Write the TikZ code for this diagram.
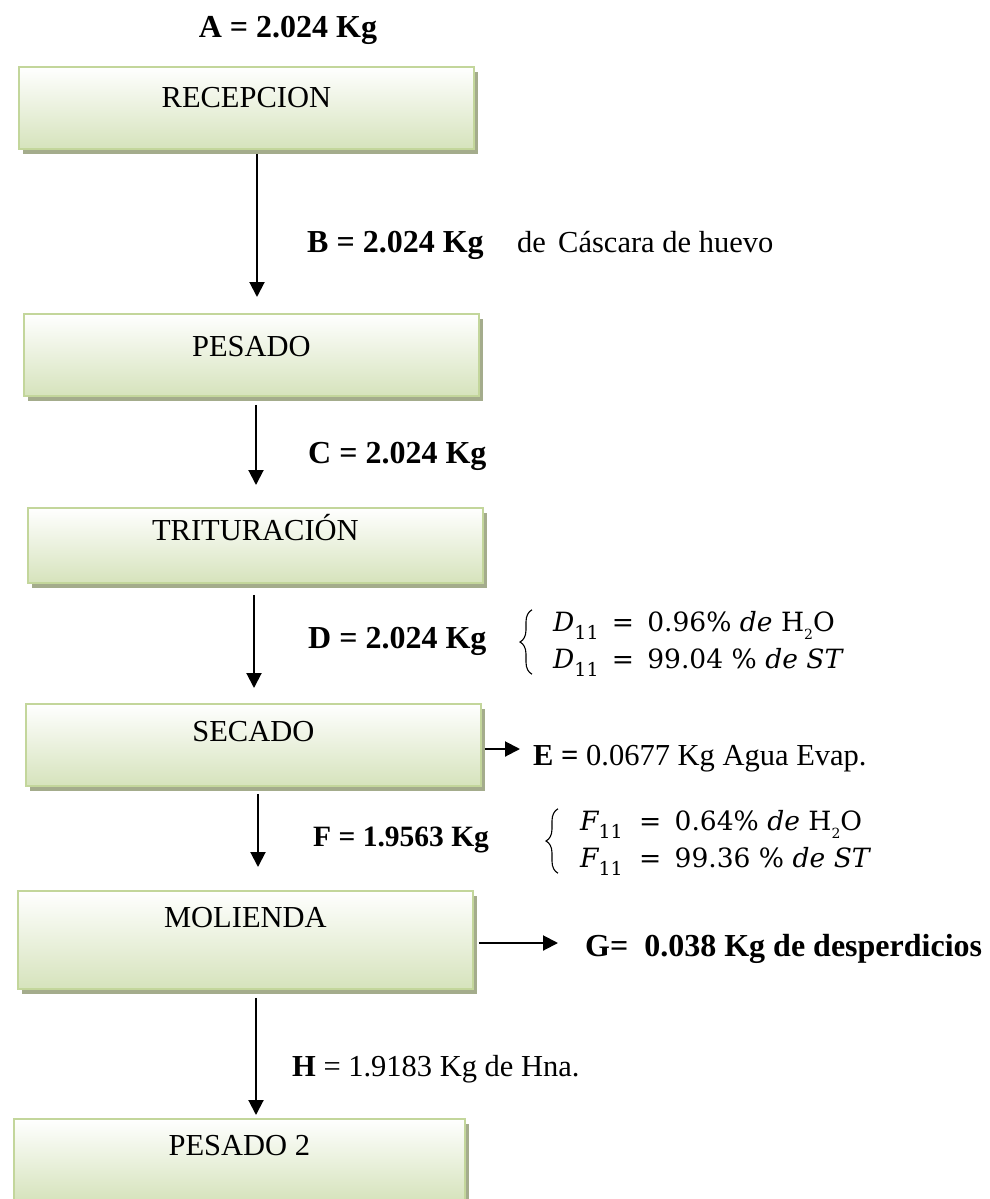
\documentclass[tikz,border=0pt]{standalone}
\usepackage{fontspec}
\setmainfont{Liberation Serif}
\newfontfamily\eqfont{DejaVu Serif}
\usetikzlibrary{arrows.meta,shadows,decorations.pathreplacing}
\definecolor{boxline}{HTML}{C3D69B}
\definecolor{boxfill}{HTML}{D6E3BC}
\definecolor{shadowc}{HTML}{A4AC8C}
% lowered indices in the composition formulas
\newcommand\lowidx[1]{\raisebox{-0.3em}{\fontsize{19}{19}\selectfont #1}}
\newcommand\smallidx[1]{\raisebox{-0.28em}{\fontsize{14}{14}\selectfont #1}}
\newcommand\eqsp{\hspace{0.5em}}
\newcommand\wsp{\hspace{0.32em}}
\begin{document}
\begin{tikzpicture}[x=1pt,y=-1pt,
  proc/.style={draw=boxline, line width=1.8pt, top color=white, bottom color=boxfill,
    minimum width=455pt, inner xsep=0pt, inner ysep=0pt, anchor=north west,
    drop shadow={shadow xshift=4pt, shadow yshift=-5pt, fill=shadowc, opacity=1},
    font=\fontsize{30.5}{36}\selectfont},
  lbl/.style={inner sep=0pt, font=\fontsize{32}{38}\selectfont},
  lblr/.style={inner sep=0pt, font=\fontsize{30.5}{36}\selectfont},
  frm/.style={inner sep=0pt, font=\eqfont\fontsize{26.5}{37}\selectfont},
  flow/.style={line width=2pt, -{Triangle[width=15pt,length=15pt]}},
  curly/.style={decorate, decoration={brace, amplitude=12pt}, line width=1.1pt}]
\useasboundingbox (0,0) rectangle (990,1199);

% process boxes
\node[proc, text height=41pt, text depth=41pt] (rec) at (18,66) {RECEPCION};
\node[proc, text height=43pt, text depth=39pt] (pes) at (23,313) {PESADO};
\node[proc, text height=33pt, text depth=42pt] (tri) at (27,507) {TRITURACIÓN};
\node[proc, text height=38pt, text depth=44pt] (sec) at (25,703) {SECADO};
\node[proc, text height=37pt, text depth=61pt] (mol) at (17,890) {MOLIENDA};
\node[proc, minimum width=451pt, text height=37pt, text depth=45pt] (pe2) at (13,1118) {PESADO 2};

% stream labels
\node[lbl, anchor=base] (a) at (288,38) {\textbf{A = 2.024 Kg}};
\node[lbl, anchor=base west] (b) at (307,252) {\textbf{B = 2.024 Kg}\fontsize{30.5}{36}\selectfont\hspace{1.1em}de\hspace{0.4em}Cáscara de huevo};
\node[lbl, anchor=base west] (c) at (308,463) {\textbf{C = 2.024 Kg}};
\node[lbl, anchor=base west] (d) at (308,648) {\textbf{D = 2.024 Kg}};
\node[lblr, anchor=base west] (e) at (533,765) {\textbf{E =} 0.0677 Kg Agua Evap.};
\node[lblr, anchor=base west, font=\fontsize{29.5}{36}\selectfont] (f) at (313,846) {\textbf{F = 1.9563 Kg}};
\node[lbl, anchor=base west] (g) at (585,956) {\textbf{G=\ \ 0.038 Kg de desperdicios}};
\node[lblr, anchor=base west] (h) at (292,1076) {\textbf{H} = 1.9183 Kg de Hna.};

% composition of streams D and F
\node[frm, anchor=west] (dform) at (553,643)
  {\begin{tabular}{@{}l@{}}
     {\itshape D}\lowidx{11}\eqsp=\eqsp0.96\%\wsp{\itshape de}\wsp H\smallidx{2}O\\
     {\itshape D}\lowidx{11}\eqsp=\eqsp99.04\wsp\%\wsp{\itshape de}\wsp{\itshape ST}
   \end{tabular}};
\node[frm, anchor=west] (fform) at (580,842)
  {\begin{tabular}{@{}l@{}}
     {\itshape F}\lowidx{11}\hspace{0.12em}\eqsp=\eqsp0.64\%\wsp{\itshape de}\wsp H\smallidx{2}O\\
     {\itshape F}\lowidx{11}\hspace{0.12em}\eqsp=\eqsp99.36\wsp\%\wsp{\itshape de}\wsp{\itshape ST}
   \end{tabular}};
\draw[curly] ([xshift=-21pt,yshift=6pt]dform.south west) -- ([xshift=-21pt,yshift=-4pt]dform.north west);
\draw[curly] ([xshift=-22pt,yshift=6pt]fform.south west) -- ([xshift=-22pt,yshift=-4pt]fform.north west);

% main line
\coordinate (x1) at (257,0);
\coordinate (x2) at (256,0);
\coordinate (x3) at (254,0);
\coordinate (x4) at (258,0);
\coordinate (x5) at (256,0);
\draw[flow, shorten <=4pt, shorten >=16pt] (rec.south -| x1) -- (pes.north -| x1);
\draw[flow, shorten <=8pt, shorten >=22pt] (pes.south -| x2) -- (tri.north -| x2);
\draw[flow, shorten <=11pt, shorten >=15pt] (tri.south -| x3) -- (sec.north -| x3);
\draw[flow, shorten <=7pt, shorten >=23pt] (sec.south -| x4) -- (mol.north -| x4);
\draw[flow, shorten <=8pt, shorten >=3pt] (mol.south -| x5) -- (pe2.north -| x5);

% side streams
\coordinate (etip) at (520,749);
\coordinate (gtip) at (558,943);
\draw[flow] ([xshift=3pt]sec.east |- etip) -- (etip);
\draw[flow] ([xshift=5pt]mol.east |- gtip) -- (gtip);
\end{tikzpicture}
\end{document}
